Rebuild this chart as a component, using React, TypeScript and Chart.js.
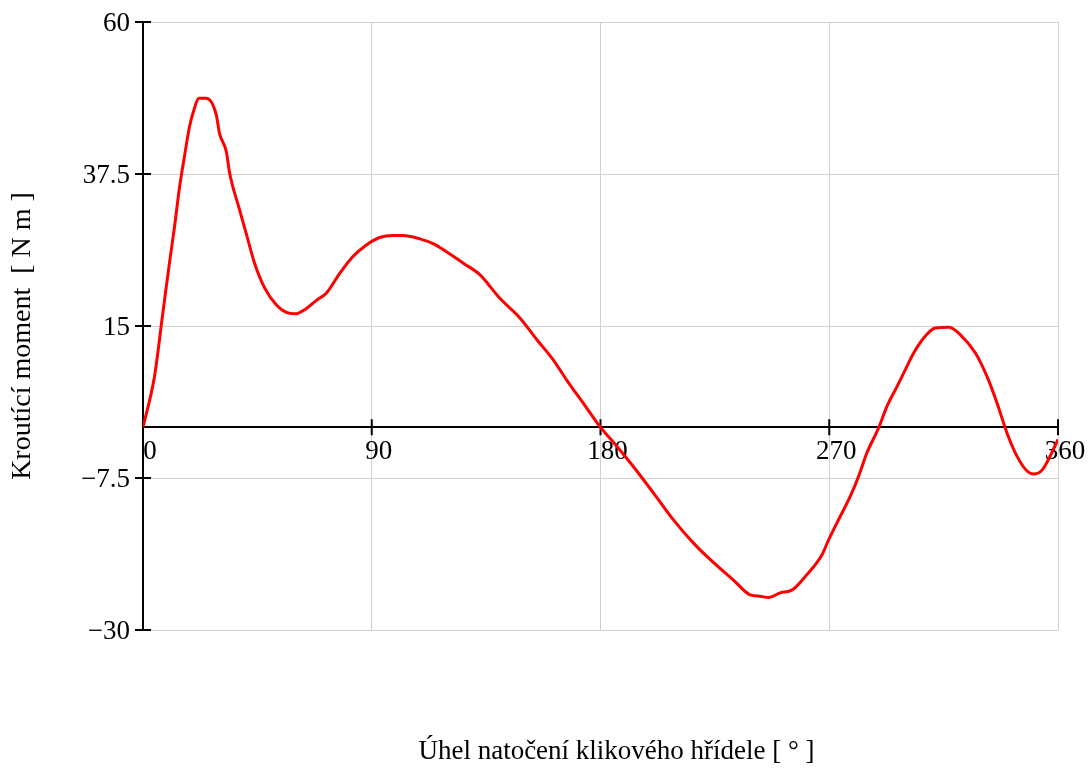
import React, { useEffect, useRef } from "react";
import { Chart, registerables } from "chart.js";

Chart.register(...registerables);

// crank angle [deg]
const angles = [
  0, 4.5, 7.8, 10.4, 12.4, 14.4, 16.3, 18.3, 20.2, 22, 24.9, 28.8, 30.1, 32.8, 34.1,
  38, 40.6, 43.9, 47.9, 52.5, 56.4, 59.7, 64.3, 68.2, 72.2, 77.4, 82.6, 87.9, 93.1,
  98.4, 102.3, 108.9, 114.1, 119.4, 126, 132.5, 140.4, 148.3, 154.9, 161.4, 166.7,
  173.2, 179.8, 186.4, 192.9, 200.8, 208.7, 216.5, 224.4, 232.3, 238.9, 242.8, 246.1,
  250.7, 255.3, 261.2, 267.1, 269.7, 274.3, 278.3, 281.5, 284.8, 289.4, 292.7, 296.6,
  299.9, 303.2, 307.1, 311.7, 317, 321.6, 327.5, 332.1, 336, 340, 343.9, 347.9, 350.5,
  353.8, 359, 360,
];

// torque [N m]
const torque = [
  0, 7.5, 16.9, 24.3, 29.7, 35.6, 40.1, 44.5, 47.2, 48.7, 48.7, 46.3, 43.5, 40.8, 37.6,
  32.2, 28.7, 24.3, 20.6, 18.1, 17, 16.8, 17.6, 18.8, 19.9, 22.8, 25.3, 27, 28.1,
  28.4, 28.4, 27.9, 27.2, 26, 24.3, 22.6, 19.1, 16.2, 13, 10, 7,
  3.6, 0.1, -2.8, -5.8, -9.7, -13.7, -17.1, -20, -22.6, -24.8, -25, -25.2,
  -24.5, -24.1, -21.8, -18.9, -16.7, -13.2, -10.2, -7.3, -3.8, -0.1, 3.1, 6,
  8.5, 11, 13.2, 14.7, 14.8, 13.7, 11, 7.5, 3.6, -0.9, -4.3, -6.5, -6.9,
  -6.3, -2.6, -1.8,
];

const xTickValues = [0, 90, 180, 270, 360];
const xTickLabels = ["0", "90", "180", "270", "360"];
const yTickValues = [-30, -7.5, 15, 37.5, 60];
const yTickLabels = ["\u221230", "\u22127.5", "15", "37.5", "60"];

const xTitle = "Úhel natočení klikového hřídele [ ° ]";
const yTitle = "Kroutící moment  [ N m ]";

const FONT_FAMILY = "'Liberation Serif', 'Times New Roman', serif";
const FONT_SIZE = 27;
const Y_TITLE_SIZE = 28;

export default function App() {
  const canvasRef = useRef<HTMLCanvasElement>(null);

  useEffect(() => {
    const canvas = canvasRef.current;
    if (!canvas) return;

    const crossTicks = {
      id: "crossTicks",
      beforeDatasetsDraw(chart: any) {
        const { ctx, scales } = chart;
        const xs = scales.x;
        const ys = scales.y;
        const y0 = ys.getPixelForValue(0);
        const x0 = xs.getPixelForValue(0);
        ctx.save();
        ctx.strokeStyle = "#000";
        ctx.lineWidth = 2;
        ctx.beginPath();
        for (const v of xTickValues) {
          const px = xs.getPixelForValue(v);
          ctx.moveTo(px, y0 - 8);
          ctx.lineTo(px, y0 + 8);
        }
        for (const v of yTickValues) {
          const py = ys.getPixelForValue(v);
          ctx.moveTo(x0 - 8, py);
          ctx.lineTo(x0 + 8, py);
        }
        ctx.stroke();
        ctx.restore();
      },
    };

    const axisTitles = {
      id: "axisTitles",
      afterDraw(chart: any) {
        const { ctx, chartArea } = chart;
        ctx.save();
        ctx.fillStyle = "#000";
        ctx.font = `${FONT_SIZE}px ${FONT_FAMILY}`;
        ctx.textAlign = "center";
        ctx.textBaseline = "alphabetic";
        const cx = (chartArea.left + chartArea.right) / 2 + 16;
        ctx.fillText(xTitle, cx, chartArea.bottom + 129);
        ctx.font = `${Y_TITLE_SIZE}px ${FONT_FAMILY}`;
        ctx.translate(23, (chartArea.top + chartArea.bottom) / 2 + 10);
        ctx.rotate(-Math.PI / 2);
        ctx.textBaseline = "middle";
        ctx.fillText(yTitle, 0, 0);
        ctx.restore();
      },
    };

    const chart = new Chart(canvas, {
      type: "line",
      data: {
        labels: angles,
        datasets: [
          {
            data: angles.map((a, i) => ({ x: a, y: torque[i] })),
            borderColor: "#ff0000",
            borderWidth: 3,
            pointRadius: 0,
            fill: false,
            cubicInterpolationMode: "monotone",
          },
        ],
      },
      options: {
        responsive: false,
        animation: false,
        color: "#000",
        layout: { padding: { top: 22, right: 30, bottom: 139, left: 0 } },
        plugins: {
          legend: { display: false },
          tooltip: { enabled: false },
          title: { display: false },
        },
        scales: {
          x: {
            type: "linear",
            min: 0,
            max: 360,
            position: { y: 0 },
            afterBuildTicks: (s: any) => {
              s.ticks = xTickValues.map((v) => ({ value: v }));
            },
            afterFit: (s: any) => {
              s.paddingLeft = 0;
              s.paddingRight = 0;
            },
            ticks: {
              color: "#000",
              font: { family: FONT_FAMILY, size: FONT_SIZE },
              padding: 8,
              labelOffset: 7,
              maxRotation: 0,
              callback: (_v: any, i: number) => xTickLabels[i],
            },
            grid: { color: "#d0d0d0", lineWidth: 1, drawTicks: false },
            border: { display: true, color: "#000", width: 2 },
          },
          y: {
            type: "linear",
            min: -30,
            max: 60,
            position: "left",
            afterFit: (s: any) => {
              s.width = 143;
              s.paddingTop = 0;
              s.paddingBottom = 0;
            },
            afterBuildTicks: (s: any) => {
              s.ticks = yTickValues.map((v) => ({ value: v }));
            },
            ticks: {
              color: "#000",
              font: { family: FONT_FAMILY, size: FONT_SIZE },
              padding: 13,
              labelOffset: 2,
              callback: (_v: any, i: number) => yTickLabels[i],
            },
            grid: { color: "#d0d0d0", lineWidth: 1, drawTicks: false },
            border: { display: true, color: "#000", width: 2 },
          },
        },
      },
      plugins: [crossTicks, axisTitles],
    } as any);

    return () => {
      chart.destroy();
    };
  }, []);

  return (
    <div style={{ position: "absolute", left: 0, top: 0, width: 1088, height: 769, background: "#fff" }}>
      <canvas
        ref={canvasRef}
        width={1088}
        height={769}
        style={{ display: "block", width: 1088, height: 769 }}
      />
    </div>
  );
}
